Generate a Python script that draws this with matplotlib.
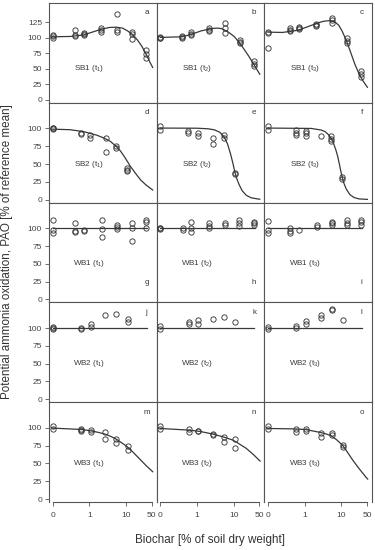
import numpy as np
import matplotlib
matplotlib.use("Agg")
import matplotlib.pyplot as plt

plt.rcParams['font.family'] = ['Liberation Sans', 'DejaVu Sans']
plt.rcParams['mathtext.fontset'] = 'custom'
plt.rcParams['mathtext.rm'] = 'Liberation Sans'
plt.rcParams['mathtext.it'] = 'Liberation Sans:italic'

# ---- data (biochar dose in % of soil dry weight, PAO in % of reference mean)
biochars = ["SB1", "SB2", "WB1", "WB2", "WB3"]
panel_letters = ["a", "b", "c", "d", "e", "f", "g", "h", "i", "j", "k", "l", "m", "n", "o"]

dose_sb1 = [0, 0.4, 0.7, 2.1, 5.7, 14.5, 35]
dose_sb2 = [0, 0.58, 1.06, 2.8, 5.3, 10.6]
dose_wb1 = [0, 0.41, 0.7, 2.15, 5.65, 14.2, 35]
dose_wb2 = [0, 0.6, 1.08, 2.75, 5.45, 11]
dose_wb3 = [0, 0.6, 1.08, 2.75, 5.45, 11]

sb1_t1 = [[105, 102, 99], [113, 104, 103], [108, 106, 105], [116, 113, 109], [139, 112, 109], [110, 106, 98], [80, 74, 67]]
sb1_t2 = [[101, 100, 99], [102, 101, 100], [110, 106, 104], [115, 113, 111], [123, 115, 107], [96, 93, 91], [62, 57, 55]]
sb1_t3 = [[110, 107, 84], [115, 112, 111], [117, 115, 114], [122, 120, 119], [132, 129, 124], [99, 95, 92], [46, 41, 36]]

sb2_t1 = [[101, 100, 99], [94, 92], [91, 87], [87, 67], [75, 73], [45, 42, 40]]
sb2_t2 = [[103, 98], [97, 93], [93, 89], [86, 78], [91, 87], [38, 36]]
sb2_t3 = [[103, 98], [98, 94, 91], [97, 93, 89], [89], [90, 85, 82], [32, 29]]

wb1_t1 = [[111, 98, 93], [107, 96, 94], [98, 96], [112, 99, 87], [105, 102, 99], [107, 100, 82], [112, 109, 101]]
wb1_t2 = [[101, 100, 99], [100, 98], [109, 101, 94], [107, 103, 100], [107, 105], [111, 107, 103], [109, 107, 104]]
wb1_t3 = [[110, 98, 93], [100, 96, 93], [98], [105, 102], [109, 107, 104], [112, 107, 105], [111, 109, 104]]

wb2_t1 = [[102, 100, 99], [100, 98], [105, 102], [118], [120], [112, 109]]
wb2_t2 = [[103, 98], [108, 106], [111, 105], [112], [116], [108]]
wb2_t3 = [[102, 99], [103, 100], [110, 106], [118, 114], [127, 125], [111]]

wb3_t1 = [[103, 98], [98, 97, 96], [97, 94], [94, 85], [85, 79], [75, 69]]
wb3_t2 = [[103, 98], [98, 94], [96, 95], [92, 90], [87, 80], [84, 71]]
wb3_t3 = [[103, 98], [98, 94], [99, 96], [93, 87], [93, 90], [76, 73]]

# fitted dose-response curves
fit_sb1_t1_x = [0, 0.3, 0.7, 1.2, 2.2, 3.5, 5.5, 8, 11, 15, 20, 27, 36, 45, 53]
fit_sb1_t1_y = [101.5, 102, 104.5, 109, 114, 116.5, 117, 115.5, 111, 105, 97, 86, 72, 60, 52]
fit_sb1_t2_x = [0, 0.4, 0.7, 1.3, 2.5, 3.5, 4.6, 7, 10.5, 16, 24.5, 37, 51]
fit_sb1_t2_y = [100.5, 101.5, 105.5, 111, 114.8, 115.5, 114.8, 109.5, 101.5, 88, 72, 55, 41]
fit_sb1_t3_x = [0, 0.25, 0.65, 1.25, 2.3, 3.3, 4.5, 6.5, 8.5, 10.5, 13.5, 17, 23, 30, 38, 51]
fit_sb1_t3_y = [109, 108.5, 112, 118, 124, 126.5, 127.5, 126, 120, 110.5, 96, 80, 58, 42, 31, 20]

fit_sb2_t1_x = [0, 0.3, 0.7, 1.6, 2.5, 3.7, 5.2, 7, 9.5, 13, 18, 25, 35, 53]
fit_sb2_t1_y = [99, 98.2, 95.5, 90.5, 86.5, 82, 75.5, 68.5, 58.5, 47, 37, 27.5, 20.5, 13.5]
fit_sb2_t2_x = [0, 1, 2, 3, 4.2, 5.5, 6.8, 8.2, 9.5, 10.6, 12, 14, 17, 22, 30, 51]
fit_sb2_t2_y = [100.5, 100.3, 99.5, 98, 94.5, 88, 78, 64, 51, 40, 30, 21, 12.5, 6, 2.5, 0.5]
fit_sb2_t3_x = [0, 1.5, 2.8, 3.6, 4.4, 5.2, 6, 7, 8, 9, 10, 11.5, 13.5, 17, 22, 30, 51]
fit_sb2_t3_y = [100.5, 100, 97.8, 95.5, 91.5, 86.5, 80, 70.5, 60, 47.5, 36, 24, 15, 7, 3, 1, 0.3]

fit_wb1_x = [0, 37]
fit_wb1_y = [100, 100]
fit_wb2_x = [0, 36]
fit_wb2_y = [100, 100]

fit_wb3_t1_x = [0, 0.6, 1.1, 1.8, 2.85, 4, 5.6, 10.8, 16, 24, 35, 53]
fit_wb3_t1_y = [99.6, 97.7, 95.8, 93.5, 90.7, 87.5, 83.7, 73.4, 65, 55.7, 47, 38.3]
fit_wb3_t2_x = [0, 0.6, 1.2, 2.7, 5, 9.6, 14, 22, 35, 52]
fit_wb3_t2_y = [99.1, 96.8, 95, 91.2, 87.5, 82.7, 77.5, 71.1, 62, 53.3]
fit_wb3_t3_x = [0, 0.5, 1.04, 2.68, 3.8, 5.3, 7.5, 10.7, 14.5, 20.3, 30, 47, 52]
fit_wb3_t3_y = [99.1, 98.5, 97.7, 93.5, 91.5, 88.8, 83, 75.7, 66, 54.7, 43, 30.4, 28]

doses = [dose_sb1, dose_sb2, dose_wb1, dose_wb2, dose_wb3]
points = [[sb1_t1, sb1_t2, sb1_t3], [sb2_t1, sb2_t2, sb2_t3], [wb1_t1, wb1_t2, wb1_t3],
          [wb2_t1, wb2_t2, wb2_t3], [wb3_t1, wb3_t2, wb3_t3]]
fits = [[(fit_sb1_t1_x, fit_sb1_t1_y), (fit_sb1_t2_x, fit_sb1_t2_y), (fit_sb1_t3_x, fit_sb1_t3_y)],
        [(fit_sb2_t1_x, fit_sb2_t1_y), (fit_sb2_t2_x, fit_sb2_t2_y), (fit_sb2_t3_x, fit_sb2_t3_y)],
        [(fit_wb1_x, fit_wb1_y)] * 3,
        [(fit_wb2_x, fit_wb2_y)] * 3,
        [(fit_wb3_t1_x, fit_wb3_t1_y), (fit_wb3_t2_x, fit_wb3_t2_y), (fit_wb3_t3_x, fit_wb3_t3_y)]]

ZERO_POS = 0.1   # control (0 %) is drawn one decade below 1 on the log axis
ink = "#383838"


def pos(d):
    d = np.asarray(d, dtype=float)
    return np.where(d == 0, ZERO_POS, d)


fig = plt.figure(figsize=(3.75, 5.5), dpi=100)
axes = fig.subplots(5, 3)
fig.subplots_adjust(left=49 / 375, right=372 / 375, top=1 - 3 / 550, bottom=1 - 502 / 550,
                    wspace=0, hspace=0)

for r in range(5):
    for c in range(3):
        ax = axes[r, c]
        ax.set_xscale("log")
        ax.set_xlim(0.08, 68)
        ax.set_ylim((-5, 156) if r == 0 else (-4.2, 136))

        fx, fy = fits[r][c]
        ax.plot(pos(fx), fy, color=ink, lw=0.9, zorder=2)
        for d, reps in zip(doses[r], points[r][c]):
            ax.plot(pos([d] * len(reps)), reps, "o", ms=3.8, mfc="none", mec=ink, mew=0.65,
                    zorder=3, clip_on=False)

        ax.text(1, 50, f"{biochars[r]} (t$_{c + 1}$)", ha="center", va="center",
                fontsize=5.8, color=ink)
        ly = 0.2 if r == 2 else 0.9
        ax.text(0.905, ly, panel_letters[r * 3 + c], transform=ax.transAxes,
                ha="center", va="center", fontsize=5.8, color=ink)

        for s in ax.spines.values():
            s.set_color("#555555")
            s.set_linewidth(0.8)

        ax.minorticks_off()
        ax.tick_params(axis="both", which="both", length=3, width=0.6, color="#555555",
                       labelsize=6, labelcolor="#444444", pad=2)
        if c == 0:
            ax.set_yticks([0, 25, 50, 75, 100, 125] if r == 0 else [0, 25, 50, 75, 100])
        else:
            ax.set_yticks([])
        if r == 4:
            ax.set_xticks([0.1, 1, 10, 50])
            ax.set_xticklabels(["0", "1", "10", "50"])
            ax.spines["bottom"].set_bounds(0.1, 50)
            ax.tick_params(axis="x", pad=4)
        else:
            ax.set_xticks([])

fig.text(7 / 375, 1 - 252 / 550, "Potential ammonia oxidation, PAO [% of reference mean]",
         rotation=90, ha="center", va="center", fontsize=8.4, color="#333333")
fig.text(210 / 375, 1 - 540 / 550, "Biochar [% of soil dry weight]",
         ha="center", va="center", fontsize=8.4, color="#333333")

fig.savefig("out.png", dpi=100)
